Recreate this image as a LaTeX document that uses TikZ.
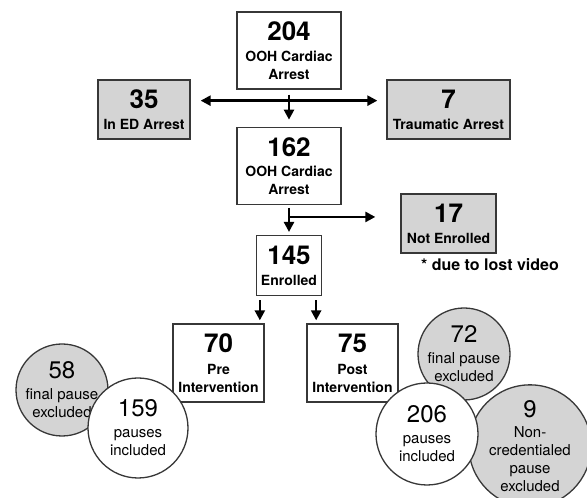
\documentclass[tikz,border=0pt]{standalone}
\usepackage{fontspec}
\setmainfont{TeX Gyre Heros}
\usetikzlibrary{arrows.meta, positioning, calc}
\definecolor{boxgray}{RGB}{212,212,212}
\definecolor{edge}{RGB}{55,55,55}
\newcommand{\bignum}[1]{{\fontsize{26}{26}\selectfont #1}}
\newcommand{\ballnum}[1]{{\fontsize{24}{24}\selectfont #1}}
\tikzset{
  flowbox/.style={draw=edge, line width=1.3pt, inner sep=0pt, align=center, font=\fontsize{14}{18}\selectfont\bfseries},
  ball/.style={circle, draw=edge, line width=1.3pt, inner sep=0pt, align=center, font=\fontsize{15}{18}\selectfont},
  arr/.style={line width=2.4pt, -{Triangle[length=10pt,width=10pt]}}
}

\begin{document}
\begin{tikzpicture}[x=1pt,y=1pt]
        \useasboundingbox (0,0) rectangle (587,498);
        \clip (0,0) rectangle (587,498);
        % boxes
        \node[flowbox, fill=white, minimum width=104pt, minimum height=77pt] (N204) at (289,447.5) {\bignum{204}\\[3pt]OOH Cardiac\\Arrest};
        \node[flowbox, fill=boxgray, minimum width=92pt, minimum height=59pt] (N35) at (144,388.5) {\bignum{35}\\[3pt]In ED Arrest};
        \node[flowbox, fill=boxgray, minimum width=123pt, minimum height=59pt] (N7) at (448.5,388.5) {\bignum{7}\\[3pt]Traumatic Arrest};
        \node[flowbox, fill=white, minimum width=104pt, minimum height=77pt, below=37pt of N204] (N162) {\bignum{162}\\[2pt]OOH Cardiac\\Arrest};
        \node[flowbox, fill=boxgray, minimum width=95pt, minimum height=59pt] (N17) at (448.5,274.5) {\bignum{17}\\[3pt]Not Enrolled};
        \node[font=\fontsize{16}{18}\selectfont\bfseries] (note) at (490,233) {* due to lost video};
        \node[flowbox, fill=white, minimum width=65pt, minimum height=60pt, below=30pt of N162] (N145) {\bignum{145}\\[3pt]Enrolled};
        \node[flowbox, fill=white, minimum width=91pt, minimum height=78pt] (N70) at (218.5,135) {\bignum{70}\\[4pt]Pre\\Intervention};
        \node[flowbox, fill=white, minimum width=91pt, minimum height=78pt] (N75) at (352.5,135) {\bignum{75}\\[4pt]Post\\Intervention};

        % arrows
        \coordinate (S1) at ($(N204.south)+(0,-11)$);
        \coordinate (S2) at ($(N162.south)+(0,-12)$);
        \draw[arr, shorten <=5pt, shorten >=7pt] (N204) -- (N162);
        \draw[line width=2.4pt, {Triangle[length=10pt,width=10pt]}-{Triangle[length=10pt,width=10pt]}, shorten <=10pt, shorten >=9pt] (N35.east |- S1) -- (N7.west |- S1);
        \draw[arr, shorten <=3pt, shorten >=3pt] (N162) -- (N145);
        \draw[arr, shorten >=25pt] (S2) -- (S2 -| N17.west);
        \draw[arr, shorten <=4pt, shorten >=3pt] ([xshift=4pt]N145.south west) -- ([xshift=4pt]N145.south west |- N70.north);
        \draw[arr, shorten <=4pt, shorten >=3pt] ([xshift=-6pt]N145.south east) -- ([xshift=-6pt]N145.south east |- N75.north);

        % pause counts
        \node[ball, fill=boxgray, minimum size=92pt] (C58) at (62,108) {\ballnum{58}\\[3pt]final pause\\excluded};
        \node[ball, fill=white, minimum size=100pt] (C159) at (138,70) {\ballnum{159}\\[3pt]pauses\\included};
        \node[ball, fill=boxgray, minimum size=92pt] (C72) at (464,144) {\ballnum{72}\\[3pt]final pause\\excluded};
        \node[ball, fill=boxgray, minimum size=120pt] (C9) at (530,52) {\ballnum{9}\\[2pt]Non-\\credentialed\\pause\\excluded};
        \node[ball, fill=white, minimum size=102pt] (C206) at (427,64) {\ballnum{206}\\[3pt]pauses\\included};
\end{tikzpicture}
\end{document}
